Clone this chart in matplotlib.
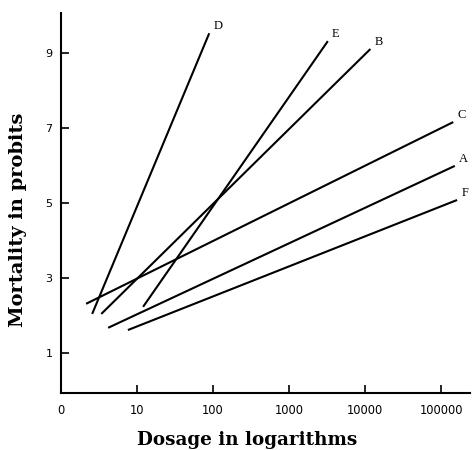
import matplotlib
matplotlib.use("Agg")
import matplotlib.pyplot as plt

# Line endpoints (x in log10 dosage units, y in probits)
series_names = ["D", "E", "B", "C", "A", "F"]
x_start = [0.41, 1.08, 0.53, 0.33, 0.62, 0.88]
y_start = [2.04, 2.23, 2.04, 2.31, 1.67, 1.61]
x_end = [1.95, 3.51, 4.07, 5.16, 5.18, 5.21]
y_end = [9.53, 9.32, 9.11, 7.16, 5.99, 5.08]

x_ticks = [0, 1, 2, 3, 4, 5]
x_tick_labels = ["0", "10", "100", "1000", "10000", "100000"]
y_ticks = [1, 3, 5, 7, 9]
y_tick_labels = ["1", "3", "5", "7", "9"]

fig = plt.figure(figsize=(4.74, 4.5), dpi=100)
ax = fig.add_axes([61/474, 1-393/450, (470-61)/474, (393-13)/450])

for name, xs, ys, xe, ye in zip(series_names, x_start, y_start, x_end, y_end):
    ax.plot([xs, xe], [ys, ye], color="black", lw=1.5, solid_capstyle="butt")
    ax.annotate(name, (xe, ye), xytext=(3, 1), textcoords="offset points",
                fontsize=9, family="Liberation Serif", ha="left", va="bottom")

ax.set_xlim(0, 5.38)
ax.set_ylim(-0.07, 10.07)
ax.spines["top"].set_visible(False)
ax.spines["right"].set_visible(False)
ax.spines["left"].set_linewidth(1.5)
ax.spines["bottom"].set_linewidth(1.5)

ax.set_xticks(x_ticks)
ax.set_xticklabels(x_tick_labels, fontsize=8.3, family="DejaVu Sans")
ax.set_yticks(y_ticks)
ax.set_yticklabels(y_tick_labels, fontsize=8, family="DejaVu Sans")
ax.tick_params(axis="both", direction="in", length=6, width=1.2)
ax.tick_params(axis="x", pad=8)
ax.tick_params(axis="y", pad=6)
ax.xaxis.get_major_ticks()[0].tick1line.set_visible(False)

ax.set_xlabel("Dosage in logarithms", fontsize=13.2, family="DejaVu Serif",
              fontweight="bold")
ax.xaxis.label.set_va("center")
ax.xaxis.set_label_coords((247.5 - 61) / 409, -(440 - 393) / 380)
ax.set_ylabel("Mortality in probits", fontsize=14, family="DejaVu Serif",
              fontweight="bold")
ax.yaxis.label.set_va("center")
ax.yaxis.set_label_coords((18 - 61) / 409, (393 - 220) / 380)

fig.savefig("out.png", dpi=100)
